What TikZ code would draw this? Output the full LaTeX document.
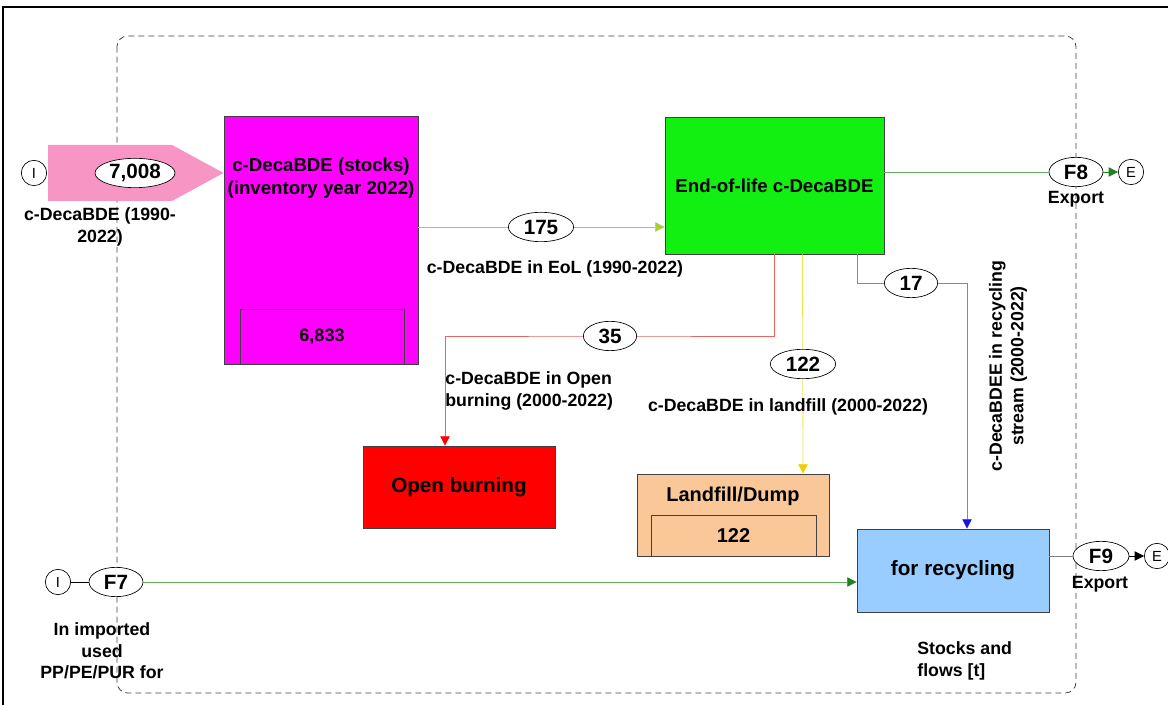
\documentclass[tikz,border=0pt]{standalone}
\usepackage{fontspec}
\setmainfont{Liberation Sans}
\usepackage{tikz}
\usetikzlibrary{calc,arrows.meta,shapes.geometric}

\definecolor{stockmag}{RGB}{255,0,255}
\definecolor{inpink}{RGB}{247,150,197}
\definecolor{eolgreen}{RGB}{17,240,17}
\definecolor{dumporange}{RGB}{250,200,152}
\definecolor{recblue}{RGB}{153,204,255}
\definecolor{eolline}{RGB}{170,205,60}
\definecolor{burnline}{RGB}{232,100,100}
\definecolor{dumpline}{RGB}{245,225,80}
\definecolor{dumptip}{RGB}{240,205,0}
\definecolor{recline}{RGB}{128,128,210}
\definecolor{rectip}{RGB}{20,20,230}
\definecolor{expline}{RGB}{100,175,100}
\definecolor{exptip}{RGB}{30,130,30}

\begin{document}
\begin{tikzpicture}[x=0.75pt,y=-0.75pt,line width=0.6pt,
		box/.style={draw=black!75,inner sep=0pt,align=center,font=\fontsize{14}{17}\selectfont\bfseries},
		flow/.style={draw,ellipse,fill=white,line width=0.5pt,inner sep=0pt,minimum height=22pt,font=\fontsize{15.5}{18}\selectfont\bfseries},
		ends/.style={draw,circle,fill=white,line width=0.5pt,inner sep=0pt,minimum size=19pt,font=\fontsize{11}{13}\selectfont},
		lbl/.style={inner sep=0pt,align=center,font=\fontsize{13.3}{16}\selectfont\bfseries},
		tip/.style={-{Triangle[length=7pt,width=7pt,color=#1]}}]
	
	\useasboundingbox (0,0) rectangle (1168,705);
	
	%frame and system border
	\draw[line width=1pt] (3,705) -- (3,7) -- (1168,7);
	\draw[black!75,dash pattern=on 4.5pt off 3pt,rounded corners=8] (117,36) rectangle (1076,693);
	
	%processes
	\node[box,fill=stockmag,minimum width=145.5pt,minimum height=186pt] (stock) at (321,240) {};
	\node[box,draw=none] at (321,178) {c-DecaBDE (stocks)\\(inventory year 2022)};
	\node[box,fill=stockmag,minimum width=123pt,minimum height=41.25pt,font=\fontsize{13.5}{16}\selectfont\bfseries] (stockin) at (322,336.5) {6,833};
	
	\node[box,fill=eolgreen,minimum width=164.25pt,minimum height=102.75pt] (eol) at (774.5,185.5) {End-of-life c-DecaBDE};
	
	\node[box,fill=red,minimum width=144pt,minimum height=61.5pt,font=\fontsize{15.5}{18}\selectfont\bfseries] (burn) at (459,487) {Open burning};
	
	\node[box,fill=dumporange,minimum width=144pt,minimum height=61.5pt] (dump) at (733,515) {};
	\node[box,draw=none,font=\fontsize{15}{18}\selectfont\bfseries] at (733,496) {Landfill/Dump};
	\node[box,fill=dumporange,minimum width=123.75pt,minimum height=30.75pt,font=\fontsize{15}{18}\selectfont\bfseries] (dumpin) at (733.5,535.5) {122};
	
	\node[box,fill=recblue,minimum width=144pt,minimum height=62.25pt,font=\fontsize{15.5}{18}\selectfont\bfseries] (rec) at (953,570.5) {for recycling};
	
	%input c-DecaBDE
	\node[ends] (in1) at (34,173) {I};
	\fill[inpink] (48,145) -- (172,145) -- (stock.west |- in1) -- (172,201) -- (48,201) -- cycle;
	\node[flow,minimum width=60pt] (f1) at (135,173) {7,008};
	\node[lbl] at (100,227) {c-DecaBDE (1990-\\2022)};
	
	%to end of life
	\coordinate (y175) at (541,227);
	\draw[eolline,tip=eolline] (stock.east |- y175) -- (eol.west |- y175);
	\node[flow,minimum width=49pt] (f175) at (y175) {175};
	\node[lbl] at (555,269) {c-DecaBDE in EoL (1990-2022)};
	
	%open burning
	\coordinate (y35) at (610,336);
	\coordinate (burnin) at ($(burn.north)+(-14,0)$);
	\draw[burnline,tip=red] (eol.south) |- (y35) -| (burnin);
	\node[flow,minimum width=40pt] (f35) at (y35) {35};
	\node[lbl,align=left,anchor=west] at (445,391) {c-DecaBDE in Open\\burning (2000-2022)};
	
	%landfill
	\draw[dumpline,tip=dumptip] ($(eol.south)+(28,0)$) -- ($(dump.north)+(70,0)$);
	\node[flow,minimum width=49pt] (f122) at (803,364) {122};
	\node[lbl] at (788,407) {c-DecaBDE in landfill (2000-2022)};
	
	%recycling
	\coordinate (y17) at (911,283);
	\coordinate (recin) at ($(rec.north)+(14,0)$);
	\draw[recline,tip=rectip] ($(eol.south)+(83,0)$) |- (y17) -| (recin);
	\node[flow,minimum width=40pt] (f17) at (y17) {17};
	\node[lbl,rotate=90] at (1008,366) {c-DecaBDEE in recycling\\stream (2000-2022)};
	
	%export F8
	\node[flow,minimum width=40.5pt] (f8) at (1076,172) {F8};
	\node[ends] (e8) at (1131,172) {E};
	\draw[expline] (eol.east |- f8) -- (f8);
	\draw[exptip,tip=exptip] (f8) -- (e8);
	\node[lbl] at (1076,199) {Export};
	
	%import F7
	\node[ends] (i7) at (58,582) {I};
	\node[flow,minimum width=40.5pt] (f7) at (116,582) {F7};
	\draw[line width=0.5pt] (i7) -- (f7);
	\draw[expline,tip=exptip] (f7) -- (rec.west |- f7);
	\node[lbl] at (102,651) {In imported\\used\\PP/PE/PUR for};
	
	%export F9
	\node[flow,minimum width=42pt] (f9) at (1101,556) {F9};
	\node[ends] (e9) at (1157,556) {E};
	\draw[gray] (rec.east |- f9) -- (f9);
	\draw[tip=black] (f9) -- (e9);
	\node[lbl] at (1100,584) {Export};
	
	\node[lbl,align=left,anchor=west] at (917,661) {Stocks and\\flows [t]};
	
\end{tikzpicture}
\end{document}
